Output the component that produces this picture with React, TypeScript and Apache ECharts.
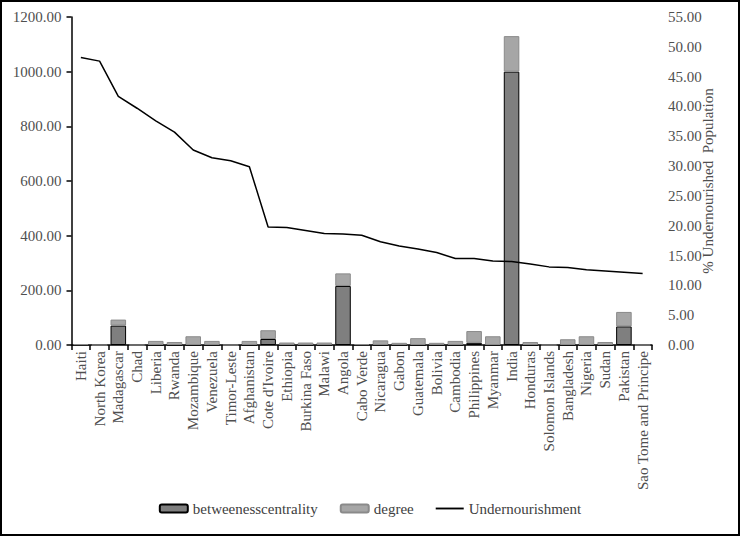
import React, { useEffect, useRef } from "react";
import * as echarts from "echarts";

const countries = [
  "Haiti", "North Korea", "Madagascar", "Chad", "Liberia", "Rwanda", "Mozambique",
  "Venezuela", "Timor-Leste", "Afghanistan", "Cote d'Ivoire", "Ethiopia", "Burkina Faso",
  "Malawi", "Angola", "Cabo Verde", "Nicaragua", "Gabon", "Guatemala", "Bolivia",
  "Cambodia", "Philippines", "Myanmar", "India", "Honduras", "Solomon Islands",
  "Bangladesh", "Nigeria", "Sudan", "Pakistan", "Sao Tome and Principe",
];

const betweenness = [
  0, 0, 71, 0, 0, 0, 0, 0, 0, 0, 22, 0, 0, 0, 216, 0, 0, 0, 0, 0,
  0, 8, 0, 1000, 0, 0, 0, 0, 0, 68, 0,
];

const degree = [
  3, 0, 22, 0, 15, 11, 32, 15, 0, 15, 32, 9, 9, 9, 46, 3, 17, 8, 25, 8,
  15, 43, 32, 130, 11, 0, 21, 32, 11, 53, 0,
];

const undernourishment = [
  48.2, 47.6, 41.7, 39.7, 37.6, 35.7, 32.7, 31.4, 30.9, 29.9, 19.8, 19.7, 19.2,
  18.7, 18.6, 18.4, 17.3, 16.6, 16.1, 15.5, 14.5, 14.5, 14.1, 14.0, 13.6, 13.1,
  13.0, 12.6, 12.4, 12.2, 12.0,
];

const leftTicks = { min: 0, max: 1200, interval: 200 };
const rightTicks = { min: 0, max: 55, interval: 5 };

const FONT = "'Liberation Serif', 'Times New Roman', serif";
const LABEL = "#4f4f4f";

export default function App() {
  const ref = useRef<HTMLDivElement>(null);

  useEffect(() => {
    document.body.style.margin = "0";
    if (!ref.current) return;
    const chart = echarts.init(ref.current, null, { renderer: "svg" });
    chart.setOption({
      animation: false,
      backgroundColor: "#ffffff",
      textStyle: { fontFamily: FONT },
      grid: { left: 71.5, right: 88, top: 17, bottom: 191, containLabel: false },
      legend: {
        bottom: 15,
        left: "center",
        itemWidth: 28,
        itemHeight: 8,
        itemGap: 22,
        textStyle: { fontFamily: FONT, fontSize: 15, color: "#404040" },
        data: [
          { name: "betweenesscentrality" },
          { name: "degree" },
          { name: "Undernourishment", icon: "path://M0 0 H30 V2 H0 Z" },
        ],
      },
      xAxis: {
        type: "category",
        data: countries,
        axisLine: { show: true, lineStyle: { color: "#000", width: 1.5 } },
        axisTick: { show: true, alignWithLabel: false, length: 5, lineStyle: { color: "#000", width: 1.5 } },
        axisLabel: {
          rotate: 90,
          interval: 0,
          fontFamily: FONT,
          fontSize: 15,
          color: LABEL,
          margin: 6,
        },
      },
      yAxis: [
        {
          type: "value",
          min: leftTicks.min,
          max: leftTicks.max,
          interval: leftTicks.interval,
          position: "left",
          axisLine: { show: true, lineStyle: { color: "#000", width: 1.5 } },
          axisTick: { show: true, length: 5, lineStyle: { color: "#000", width: 1.5 } },
          splitLine: { show: false },
          axisLabel: {
            fontFamily: FONT,
            fontSize: 15,
            color: LABEL,
            margin: 10,
            formatter: (v: number) => v.toFixed(2),
          },
        },
        {
          type: "value",
          min: rightTicks.min,
          max: rightTicks.max,
          interval: rightTicks.interval,
          position: "right",
          name: "% Undernourished  Population",
          nameLocation: "middle",
          nameGap: 48,
          nameMoveOverlap: false,
          nameRotate: 90,
          nameTextStyle: { fontFamily: FONT, fontSize: 15, color: LABEL },
          axisLine: { show: false },
          axisTick: { show: false },
          splitLine: { show: false },
          axisLabel: {
            fontFamily: FONT,
            fontSize: 15,
            color: LABEL,
            margin: 16,
            formatter: (v: number) => v.toFixed(2),
          },
        },
      ],
      series: [
        {
          name: "betweenesscentrality",
          type: "bar",
          stack: "total",
          data: betweenness,
          barCategoryGap: "17%",
          itemStyle: { color: "#7f7f7f", borderColor: "#000000", borderWidth: 1 },
        },
        {
          name: "degree",
          type: "bar",
          stack: "total",
          data: degree,
          barCategoryGap: "17%",
          itemStyle: { color: "#a6a6a6", borderColor: "#8a8a8a", borderWidth: 1 },
        },
        {
          name: "Undernourishment",
          type: "line",
          yAxisIndex: 1,
          data: undernourishment,
          symbol: "none",
          lineStyle: { color: "#000000", width: 1.5 },
          itemStyle: { color: "#000000" },
          z: 5,
        },
      ],
    });
    return () => chart.dispose();
  }, []);

  return (
    <div style={{ position: "absolute", left: 0, top: 0, width: 740, height: 536, background: "#fff" }}>
      <div ref={ref} style={{ position: "absolute", left: 0, top: 0, width: 740, height: 536 }} />
      <div
        style={{
          position: "absolute",
          left: 0,
          top: 0,
          width: 740,
          height: 536,
          boxSizing: "border-box",
          border: "2px solid #000",
          pointerEvents: "none",
        }}
      />
    </div>
  );
}
